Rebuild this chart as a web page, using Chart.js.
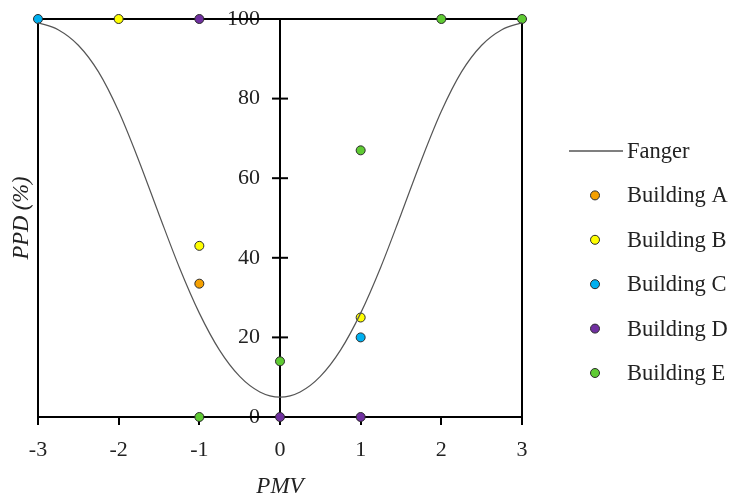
<!DOCTYPE html>
<html>
<head>
<meta charset="utf-8">
<script src="https://cdn.jsdelivr.net/npm/chart.js@4.4.0/dist/chart.umd.min.js"></script>
<style>
  html, body { margin: 0; padding: 0; background: #fff; }
  #wrap { width: 729px; height: 498px; }
</style>
</head>
<body>
<div id="wrap"><canvas id="myChart" width="729" height="498"></canvas></div>
<script>
// Fanger curve, every 0.25 PMV
var fangerPMV = [-3, -2.75, -2.5, -2.25, -2, -1.75, -1.5, -1.25, -1, -0.75, -0.5, -0.25, 0,
                 0.25, 0.5, 0.75, 1, 1.25, 1.5, 1.75, 2, 2.25, 2.5, 2.75, 3]
var fangerPPD = [99.1, 97.3, 93.4, 86.7, 76.8, 64.4, 50.9, 37.7, 26.1, 16.8, 10.2, 6.3, 5.0,
                 6.3, 10.2, 16.8, 26.1, 37.7, 50.9, 64.4, 76.8, 86.7, 93.4, 97.3, 99.1]

// survey points per building
var buildA_pmv = [-1]
var buildA_ppd = [33.5]
var buildB_pmv = [-2, -1, 1]
var buildB_ppd = [100, 43, 25]
var buildC_pmv = [-3, 1]
var buildC_ppd = [100, 20]
var buildD_pmv = [-1, 0, 1]
var buildD_ppd = [100, 0, 0]
var buildE_pmv = [-1, 0, 1, 2, 3]
var buildE_ppd = [0, 14, 67, 100, 100]

var xTicks = [-3, -2, -1, 0, 1, 2, 3]
var yTicks = [0, 20, 40, 60, 80, 100]

var serif = "'Liberation Serif', 'Times New Roman', serif"

function pts(xs, ys) {
  var out = []
  for (var i = 0; i < xs.length; i++) out.push({x: xs[i], y: ys[i]})
  return out
}

function building(name, colour, xs, ys) {
  return {
    label: name,
    data: pts(xs, ys),
    backgroundColor: colour,
    borderColor: '#2b2b2b',
    borderWidth: 1,
    pointRadius: 4.5,
    pointHoverRadius: 4.5,
    showLine: false,
    clip: false
  }
}

// labels may hang over the plot edge, no extra room for them
function noEdgePad(s) {
  s.paddingTop = 0
  s.paddingBottom = 0
  s.paddingLeft = 0
  s.paddingRight = 0
}

// box round the plot and the y ticks crossing the middle axis
var frame = {
  id: 'frame',
  beforeDatasetsDraw: function (chart) {
    var a = chart.chartArea, ctx = chart.ctx
    ctx.save()
    ctx.strokeStyle = '#000'
    ctx.lineWidth = 2
    ctx.strokeRect(a.left, a.top, a.right - a.left, a.bottom - a.top)
    var ys = chart.scales.y, x0 = chart.scales.x.getPixelForValue(0)
    ys.ticks.forEach(function (t, i) {
      var py = ys.getPixelForTick(i)
      ctx.beginPath()
      ctx.moveTo(x0 - 8, py)
      ctx.lineTo(x0 + 8, py)
      ctx.stroke()
    })
    ctx.restore()
  }
}

// legend drawn to the right of the plot
var sideLegend = {
  id: 'sideLegend',
  afterDraw: function (chart) {
    var a = chart.chartArea, ctx = chart.ctx
    ctx.save()
    ctx.font = '22.5px ' + serif
    ctx.textBaseline = 'middle'
    chart.data.datasets.forEach(function (ds, i) {
      var y = a.top + 132 + i * 44.4
      var mx = a.right + 73
      if (ds.showLine) {
        ctx.strokeStyle = ds.borderColor
        ctx.lineWidth = 1.5
        ctx.beginPath()
        ctx.moveTo(a.right + 47, y)
        ctx.lineTo(a.right + 101, y)
        ctx.stroke()
      } else {
        ctx.beginPath()
        ctx.arc(mx, y, 4.5, 0, Math.PI * 2)
        ctx.fillStyle = ds.backgroundColor
        ctx.fill()
        ctx.lineWidth = 1
        ctx.strokeStyle = ds.borderColor
        ctx.stroke()
      }
      ctx.fillStyle = '#222'
      ctx.fillText(ds.label, a.right + 105, y + 1)
    })
    ctx.restore()
  }
}

var ctx = document.getElementById('myChart').getContext('2d')
var chart = new Chart(ctx, {
  type: 'scatter',
  data: {
    datasets: [
      {
        label: 'Fanger',
        data: pts(fangerPMV, fangerPPD),
        showLine: true,
        borderColor: '#555',
        borderWidth: 1.2,
        pointRadius: 0,
        cubicInterpolationMode: 'monotone',
        fill: false
      },
      building('Building A', '#f5a000', buildA_pmv, buildA_ppd),
      building('Building B', '#ffff00', buildB_pmv, buildB_ppd),
      building('Building C', '#00b0f0', buildC_pmv, buildC_ppd),
      building('Building D', '#7030a0', buildD_pmv, buildD_ppd),
      building('Building E', '#5fcb33', buildE_pmv, buildE_ppd)
    ]
  },
  options: {
    responsive: false,
    animation: false,
    events: [],
    layout: { padding: { top: 19, right: 207, bottom: 0, left: 6.5 } },
    plugins: {
      legend: { display: false },
      tooltip: { enabled: false }
    },
    scales: {
      x: {
        type: 'linear',
        position: 'bottom',
        min: -3,
        max: 3,
        afterBuildTicks: function (s) { s.ticks = xTicks.map(function (v) { return {value: v} }) },
        afterFit: noEdgePad,
        ticks: { color: '#222', padding: 11.8, font: { family: serif, size: 22 } },
        grid: { drawOnChartArea: false, tickLength: 8, color: '#000', lineWidth: 2 },
        border: { display: false },
        title: { display: true, text: 'PMV', color: '#222', padding: { top: 0, bottom: 0 },
                 font: { family: serif, size: 23, style: 'italic', lineHeight: 1 } }
      },
      y: {
        type: 'linear',
        position: 'center',
        min: 0,
        max: 100,
        afterBuildTicks: function (s) { s.ticks = yTicks.map(function (v) { return {value: v} }) },
        afterFit: noEdgePad,
        ticks: { color: '#222', padding: 20, font: { family: serif, size: 22 } },
        grid: { drawOnChartArea: false, drawTicks: false },
        border: { display: true, color: '#000', width: 2 }
      },
      yTitle: {
        type: 'linear',
        position: 'left',
        min: 0,
        max: 100,
        ticks: { display: false },
        grid: { display: false, drawTicks: false },
        border: { display: false },
        title: { display: true, text: 'PPD (%)', color: '#222', padding: { top: 2, bottom: 2.5 },
                 font: { family: serif, size: 22.5, style: 'italic' } }
      }
    }
  },
  plugins: [frame, sideLegend]
})
</script>
</body>
</html>
